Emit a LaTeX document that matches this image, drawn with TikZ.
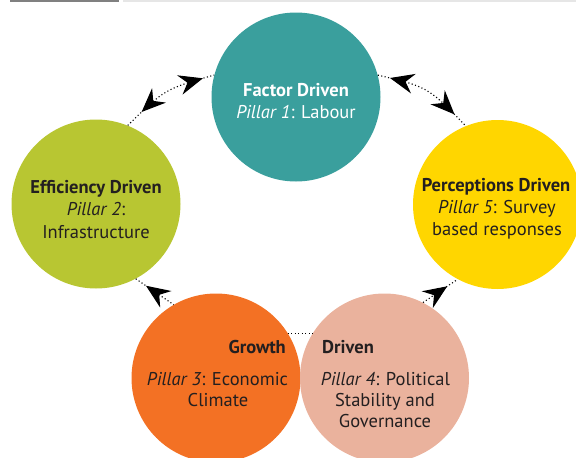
\documentclass[tikz,border=0pt]{standalone}
\usepackage{fontspec}
\setmainfont{PT Sans}
\usetikzlibrary{arrows.meta,decorations.markings}
\definecolor{cteal}{HTML}{3A9F9D}
\definecolor{cgreen}{HTML}{B8C632}
\definecolor{cyellow}{HTML}{FFD600}
\definecolor{corange}{HTML}{F37124}
\definecolor{cpink}{HTML}{EAB29D}
\definecolor{cdark}{HTML}{231F20}
\definecolor{bardark}{HTML}{808080}
\definecolor{barlight}{HTML}{E6E6E6}
\tikzset{
  pillar/.style={circle, inner sep=0pt, minimum size=169pt},
  lbl/.style={anchor=base, inner sep=0pt, font=\fontsize{18.5}{22}\selectfont, text=cdark},
  link/.style={line width=1.1pt, dash pattern=on 1.1pt off 2.4pt},
  bigtip/.tip={Stealth[length=24pt,width=20pt,inset=8pt]},
}
\begin{document}
\begin{tikzpicture}[x=1pt,y=-1pt]
\useasboundingbox (0,0) rectangle (576,458);
\clip (0,0) rectangle (576,458);
\fill[bardark] (10,0) rectangle (119,2);
\fill[barlight] (123,0) rectangle (576,2);
% circles
\node[pillar, fill=cteal] (fac) at (296,97) {};
\node[pillar, fill=cgreen] (eff) at (96,204) {};
\node[pillar, fill=cyellow] (per) at (497.5,204.5) {};
\node[pillar, fill=corange] (gro) at (216,378) {};
\node[pillar, fill=cpink] (pol) at (384.5,378) {};
% connectors
\draw[link, postaction={decorate}, decoration={markings,
  mark=at position 0.19 with {\arrowreversed{bigtip}},
  mark=at position 0.885 with {\arrow{bigtip}}}]
  (eff.68) .. controls (165,89) .. (fac.165);
\draw[link, postaction={decorate}, decoration={markings,
  mark=at position 0.12 with {\arrowreversed{bigtip}},
  mark=at position 0.845 with {\arrow{bigtip}}}]
  (fac.15) .. controls (428,87) .. (per.112);
\draw[link, postaction={decorate}, decoration={markings,
  mark=at position 0.27 with {\arrowreversed{bigtip}}}]
  (eff.-62) -- (gro.120);
\draw[link, postaction={decorate}, decoration={markings,
  mark=at position 0.7 with {\arrow{bigtip}}}]
  (pol.63) -- (per.-118);
\draw[link] (gro.32) -- (pol.148);
% labels
\node[lbl, text=white] (f1) at (296,96) {\bfseries Factor Driven};
\node[lbl, text=white] (f2) at (296,118) {\textit{Pillar 1}: Labour};
\node[lbl] (e1) at (96,193) {\bfseries Efficiency Driven};
\node[lbl] (e2) at (96,215) {\textit{Pillar 2}:};
\node[lbl] (e3) at (96,238) {Infrastructure};
\node[lbl] (p1) at (496,191) {\bfseries Perceptions Driven};
\node[lbl] (p2) at (497,213) {\textit{Pillar 5}: Survey};
\node[lbl] (p3) at (497,235) {based responses};
\node[lbl, anchor=base east] (g1) at (286,353) {\bfseries Growth};
\node[lbl] (g2) at (217.5,385) {\textit{Pillar 3}: Economic};
\node[lbl] (g3) at (218,406) {Climate};
\node[lbl, anchor=base west] (d1) at (322,353) {\bfseries Driven};
\node[lbl] (d2) at (385.5,385) {\textit{Pillar 4}: Political};
\node[lbl] (d3) at (385,406) {Stability and};
\node[lbl] (d4) at (385,427) {Governance};
\end{tikzpicture}
\end{document}
